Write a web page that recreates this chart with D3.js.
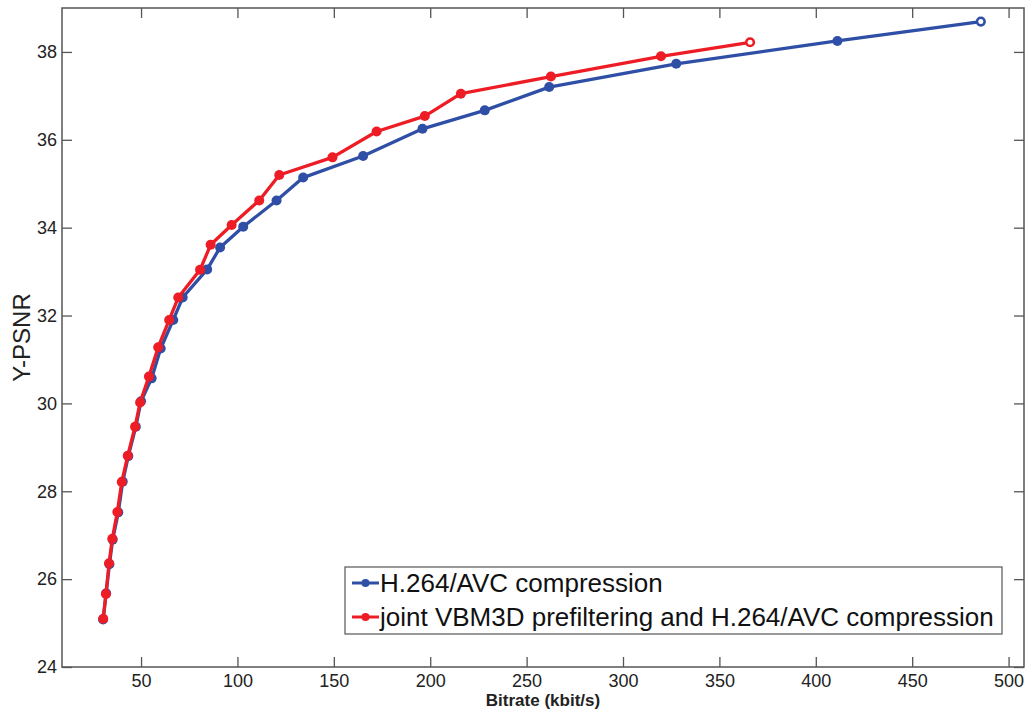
<!DOCTYPE html>
<html>
<head>
<meta charset="utf-8">
<script src="https://cdn.jsdelivr.net/npm/d3@7"></script>
<style>
body { margin: 0; background: #fff; }
text { font-family: "Liberation Sans", Arial, sans-serif; }
</style>
</head>
<body>
<div id="chart"></div>
<script>
// H.264/AVC compression
var bitrateH264 = [30.3, 31.9, 33.6, 35.3, 38.2, 40.5, 43.4, 47.3, 50.0, 55.5, 60.2, 66.7, 71.6, 84.3, 91.0, 103.0, 120.3, 134.1, 165.2, 196.0, 228.3, 261.7, 327.6, 411.2, 485.6];
var psnrH264    = [25.08, 25.68, 26.34, 26.90, 27.52, 28.22, 28.80, 29.47, 30.05, 30.57, 31.25, 31.90, 32.41, 33.05, 33.55, 34.02, 34.62, 35.14, 35.63, 36.25, 36.67, 37.20, 37.73, 38.25, 38.69];
// joint VBM3D prefiltering and H.264/AVC compression
var bitrateJoint = [30.4, 31.8, 33.4, 35.1, 37.7, 40.0, 43.1, 46.9, 49.5, 54.1, 58.9, 64.6, 69.3, 80.6, 86.1, 97.0, 111.3, 121.7, 149.3, 172.2, 197.2, 215.9, 262.6, 319.7, 365.9];
var psnrJoint    = [25.10, 25.66, 26.36, 26.92, 27.53, 28.21, 28.81, 29.47, 30.02, 30.61, 31.28, 31.90, 32.41, 33.04, 33.61, 34.06, 34.62, 35.20, 35.60, 36.19, 36.54, 37.05, 37.44, 37.90, 38.22];

var seriesNames = ["H.264/AVC compression", "joint VBM3D prefiltering and H.264/AVC compression"];
var seriesColors = ["#2f4fa6", "#ee1c24"];
var xTicks = [50, 100, 150, 200, 250, 300, 350, 400, 450, 500];
var yTicks = [24, 26, 28, 30, 32, 34, 36, 38];

var width = 1027, height = 713;
var ml = 62, mr = 1024, mt = 8, mb = 667;

var svg = d3.select("#chart").append("svg")
    .attr("width", width)
    .attr("height", height);

var x = d3.scaleLinear().domain([9, 508]).range([ml, mr]);
var y = d3.scaleLinear().domain([24, 39]).range([mb, mt]);

var series = [
    { name: seriesNames[0], color: seriesColors[0], pts: bitrateH264.map(function(d, i) { return [d, psnrH264[i]]; }) },
    { name: seriesNames[1], color: seriesColors[1], pts: bitrateJoint.map(function(d, i) { return [d, psnrJoint[i]]; }) }
];

// axes, matlab style: ticks inward, box on
function styleAxis(g) {
    g.select(".domain").remove();
    g.selectAll(".tick line").attr("stroke", "#555").attr("stroke-width", 1.3);
    g.selectAll(".tick text").attr("fill", "#222").style("font-size", "18px");
}

svg.append("g")
    .attr("transform", "translate(0," + mb + ")")
    .call(d3.axisBottom(x).tickValues(xTicks).tickSizeInner(-10).tickSizeOuter(0).tickPadding(7))
    .call(styleAxis);

svg.append("g")
    .attr("transform", "translate(0," + mt + ")")
    .call(d3.axisTop(x).tickValues(xTicks).tickSizeInner(-10).tickSizeOuter(0).tickFormat(""))
    .call(styleAxis);

svg.append("g")
    .attr("transform", "translate(" + ml + ",0)")
    .call(d3.axisLeft(y).tickValues(yTicks).tickSizeInner(-10).tickSizeOuter(0).tickPadding(5))
    .call(styleAxis);

svg.append("g")
    .attr("transform", "translate(" + mr + ",0)")
    .call(d3.axisRight(y).tickValues(yTicks).tickSizeInner(-10).tickSizeOuter(0).tickFormat(""))
    .call(styleAxis);

svg.append("rect")
    .attr("x", ml).attr("y", mt)
    .attr("width", mr - ml).attr("height", mb - mt)
    .attr("fill", "none")
    .attr("stroke", "#555")
    .attr("stroke-width", 1.5);

var line = d3.line()
    .x(function(d) { return x(d[0]); })
    .y(function(d) { return y(d[1]); });

series.forEach(function(s) {
    var g = svg.append("g");
    g.append("path")
        .datum(s.pts)
        .attr("fill", "none")
        .attr("stroke", s.color)
        .attr("stroke-width", 3.3)
        .attr("stroke-linejoin", "round")
        .attr("d", line);
    g.selectAll("circle")
        .data(s.pts)
        .enter()
        .append("circle")
        .attr("cx", function(d) { return x(d[0]); })
        .attr("cy", function(d) { return y(d[1]); })
        .attr("r", function(d, i) { return i == s.pts.length - 1 ? 3.8 : 5; })
        .attr("fill", function(d, i) { return i == s.pts.length - 1 ? "#fff" : s.color; })
        .attr("stroke", s.color)
        .attr("stroke-width", function(d, i) { return i == s.pts.length - 1 ? 2.6 : 0; });
});

// labels
svg.append("text")
    .attr("x", (ml + mr) / 2)
    .attr("y", 706)
    .attr("text-anchor", "middle")
    .style("font-size", "17px")
    .style("font-weight", "bold")
    .attr("fill", "#222")
    .text("Bitrate (kbit/s)");

svg.append("text")
    .attr("transform", "translate(30," + ((mt + mb) / 2) + ") rotate(-90)")
    .attr("text-anchor", "middle")
    .style("font-size", "24px")
    .attr("fill", "#222")
    .text("Y-PSNR");

// legend
var legend = svg.append("g");
legend.append("rect")
    .attr("x", 345).attr("y", 567)
    .attr("width", 657).attr("height", 67)
    .attr("fill", "#fff")
    .attr("stroke", "#555")
    .attr("stroke-width", 1.2);

series.forEach(function(s, i) {
    var ly = 583 + i * 34;
    legend.append("line")
        .attr("x1", 352).attr("x2", 379)
        .attr("y1", ly).attr("y2", ly)
        .attr("stroke", s.color)
        .attr("stroke-width", 3);
    legend.append("circle")
        .attr("cx", 365.5).attr("cy", ly).attr("r", 4)
        .attr("fill", s.color);
    legend.append("text")
        .attr("x", 380).attr("y", ly)
        .attr("dy", "0.36em")
        .style("font-size", "26px")
        .attr("fill", "#111")
        .text(s.name);
});
</script>
</body>
</html>
